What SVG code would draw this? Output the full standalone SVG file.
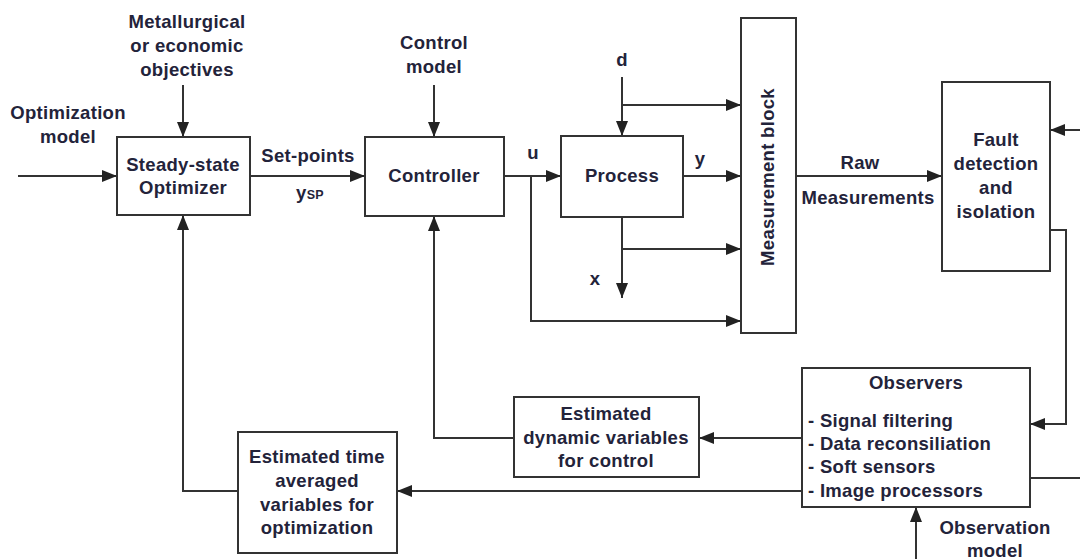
<svg xmlns="http://www.w3.org/2000/svg" width="1080" height="559" viewBox="0 0 1080 559">
<style>
text{font-family:"Liberation Sans",Arial,sans-serif;font-weight:bold;font-size:18.5px;letter-spacing:0.3px;fill:#23233a;text-anchor:middle}
.l{text-anchor:start}
rect{fill:#fff;stroke:#333;stroke-width:2}
.c path{fill:none;stroke:#333;stroke-width:2}
</style>
<defs>
<marker id="a" markerUnits="userSpaceOnUse" markerWidth="16" markerHeight="14" refX="15" refY="6" orient="auto">
<path d="M0,0 L15,6 L0,12 z" fill="#222"/>
</marker>
</defs>
<g class="c" id="connectors">
<path d="M18,176 H117" marker-end="url(#a)"/>
<path d="M183,85 V137" marker-end="url(#a)"/>
<path d="M250,176 H365" marker-end="url(#a)"/>
<path d="M434,85 V137" marker-end="url(#a)"/>
<path d="M504,176 H561" marker-end="url(#a)"/>
<path d="M531,176 V321 H741" marker-end="url(#a)"/>
<path d="M622,77 V136" marker-end="url(#a)"/>
<path d="M622,105 H741" marker-end="url(#a)"/>
<path d="M683,176 H741" marker-end="url(#a)"/>
<path d="M622,217 V298" marker-end="url(#a)"/>
<path d="M622,249 H741" marker-end="url(#a)"/>
<path d="M796,176 H942" marker-end="url(#a)"/>
<path d="M1080,130 H1050" marker-end="url(#a)"/>
<path d="M1050,230 H1066 V424 H1030" marker-end="url(#a)"/>
<path d="M1030,478 H1080"/>
<path d="M916,559 V507" marker-end="url(#a)"/>
<path d="M802,438 H699" marker-end="url(#a)"/>
<path d="M514,438 H434 V216" marker-end="url(#a)"/>
<path d="M802,491 H397" marker-end="url(#a)"/>
<path d="M238,491 H183 V215" marker-end="url(#a)"/>
</g>
<g id="labels">
<text x="187" y="28">Metallurgical</text>
<text x="187" y="52">or economic</text>
<text x="187" y="76">objectives</text>
<text x="68" y="119">Optimization</text>
<text x="68" y="143">model</text>
<text x="308" y="162">Set-points</text>
<text x="310" y="199">y<tspan font-size="12.5">SP</tspan></text>
<text x="434" y="49">Control</text>
<text x="434" y="73">model</text>
<text x="622" y="66">d</text>
<text x="533" y="159">u</text>
<text x="700" y="165">y</text>
<text x="595" y="285">x</text>
<text x="860" y="169">Raw</text>
<text x="868" y="204">Measurements</text>
<text x="995" y="534">Observation</text>
<text x="995" y="557">model</text>
</g>
<g id="optimizer"><rect x="117" y="137" width="133" height="78"/>
<text x="183" y="171">Steady-state</text><text x="183" y="194">Optimizer</text></g>
<g id="controller"><rect x="365" y="137" width="139" height="79"/>
<text x="434" y="182">Controller</text></g>
<g id="process"><rect x="561" y="136" width="122" height="81"/>
<text x="622" y="182">Process</text></g>
<g id="measurement"><rect x="741" y="18" width="55" height="315"/>
<text transform="translate(774,177) rotate(-90)">Measurement block</text></g>
<g id="fdi"><rect x="942" y="82" width="108" height="189"/>
<text x="996" y="146">Fault</text><text x="996" y="170">detection</text><text x="996" y="194">and</text><text x="996" y="218">isolation</text></g>
<g id="observers"><rect x="802" y="368" width="228" height="139"/>
<text x="916" y="389">Observers</text>
<text class="l" x="808" y="427">- Signal filtering</text>
<text class="l" x="808" y="450">- Data reconsiliation</text>
<text class="l" x="808" y="473">- Soft sensors</text>
<text class="l" x="808" y="497">- Image processors</text></g>
<g id="dynamic"><rect x="514" y="397" width="185" height="80"/>
<text x="606" y="420">Estimated</text><text x="606" y="444">dynamic variables</text><text x="606" y="467">for control</text></g>
<g id="averaged"><rect x="238" y="432" width="159" height="121"/>
<text x="317" y="463">Estimated time</text><text x="317" y="487">averaged</text><text x="317" y="511">variables for</text><text x="317" y="534">optimization</text></g>
</svg>
